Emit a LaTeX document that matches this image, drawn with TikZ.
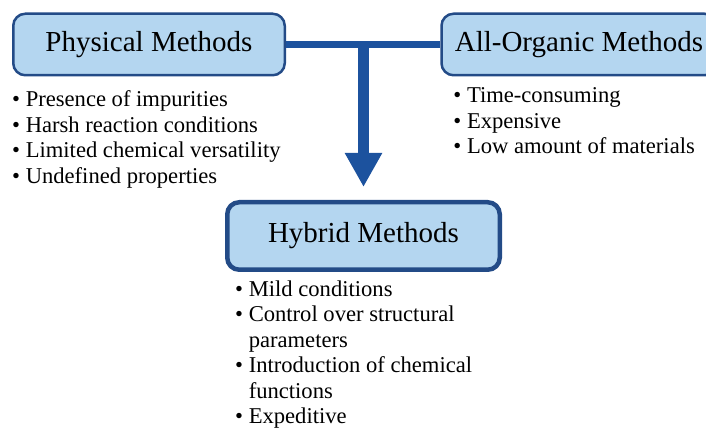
\documentclass[tikz,border=0pt]{standalone}
\usepackage{fontspec}
\setmainfont{Liberation Serif}
\usepackage{tikz}
\usetikzlibrary{positioning, arrows.meta, calc}
\usepackage{xcolor}
\definecolor{boxfill}{RGB}{180,214,240}
\definecolor{boxline}{RGB}{35,75,135}
\definecolor{arrowblue}{RGB}{28,82,158}
\tikzstyle{method} = [rectangle, rounded corners=12pt, minimum height=61.5pt, text centered, draw=boxline, line width=2.5pt, fill=boxfill, font=\fontsize{29}{33}\selectfont]
\tikzstyle{bullets} = [align=left, inner sep=0pt, font=\fontsize{22.6}{25.5}\selectfont]
\tikzstyle{link} = [draw=arrowblue, line width=7pt]

\begin{document}
\begin{tikzpicture}[x=1pt, y=1pt]
        \useasboundingbox (0,0) rectangle (706,430);
        \node (phys) [method, minimum width=271.5pt] at (149,385.5) {Physical Methods};
        \node (org) [method, minimum width=275pt] at (579,385.5) {All-Organic Methods};
        \node (hyb) [method, minimum width=272.5pt, minimum height=67.5pt, line width=4.5pt] at (363.5,194) {Hybrid Methods};

        \node (physlist) [bullets, below right=14pt and 0pt of phys.south west] {\textbullet\ Presence of impurities\\\textbullet\ Harsh reaction conditions\\\textbullet\ Limited chemical versatility\\\textbullet\ Undefined properties};
        \node (orglist) [bullets, below right=11pt and 13pt of org.south west] {\textbullet\ Time-consuming\\\textbullet\ Expensive\\\textbullet\ Low amount of materials};
        \node (hyblist) [bullets, below right=8.5pt and 10pt of hyb.south west] {\textbullet\ Mild conditions\\\textbullet\ Control over structural\\\phantom{\textbullet\ }parameters\\\textbullet\ Introduction of chemical\\\phantom{\textbullet\ }functions\\\textbullet\ Expeditive};

        % merge both routes into the hybrid one
        \coordinate (hub) at (phys.east -| hyb.north);
        \draw [link] (phys.east) -- (org.west);
        \draw [link, line width=11pt, -{Triangle[width=35pt,length=34pt]}, shorten >=13pt] (hub) -- (hyb.north);
    \end{tikzpicture}
\end{document}
